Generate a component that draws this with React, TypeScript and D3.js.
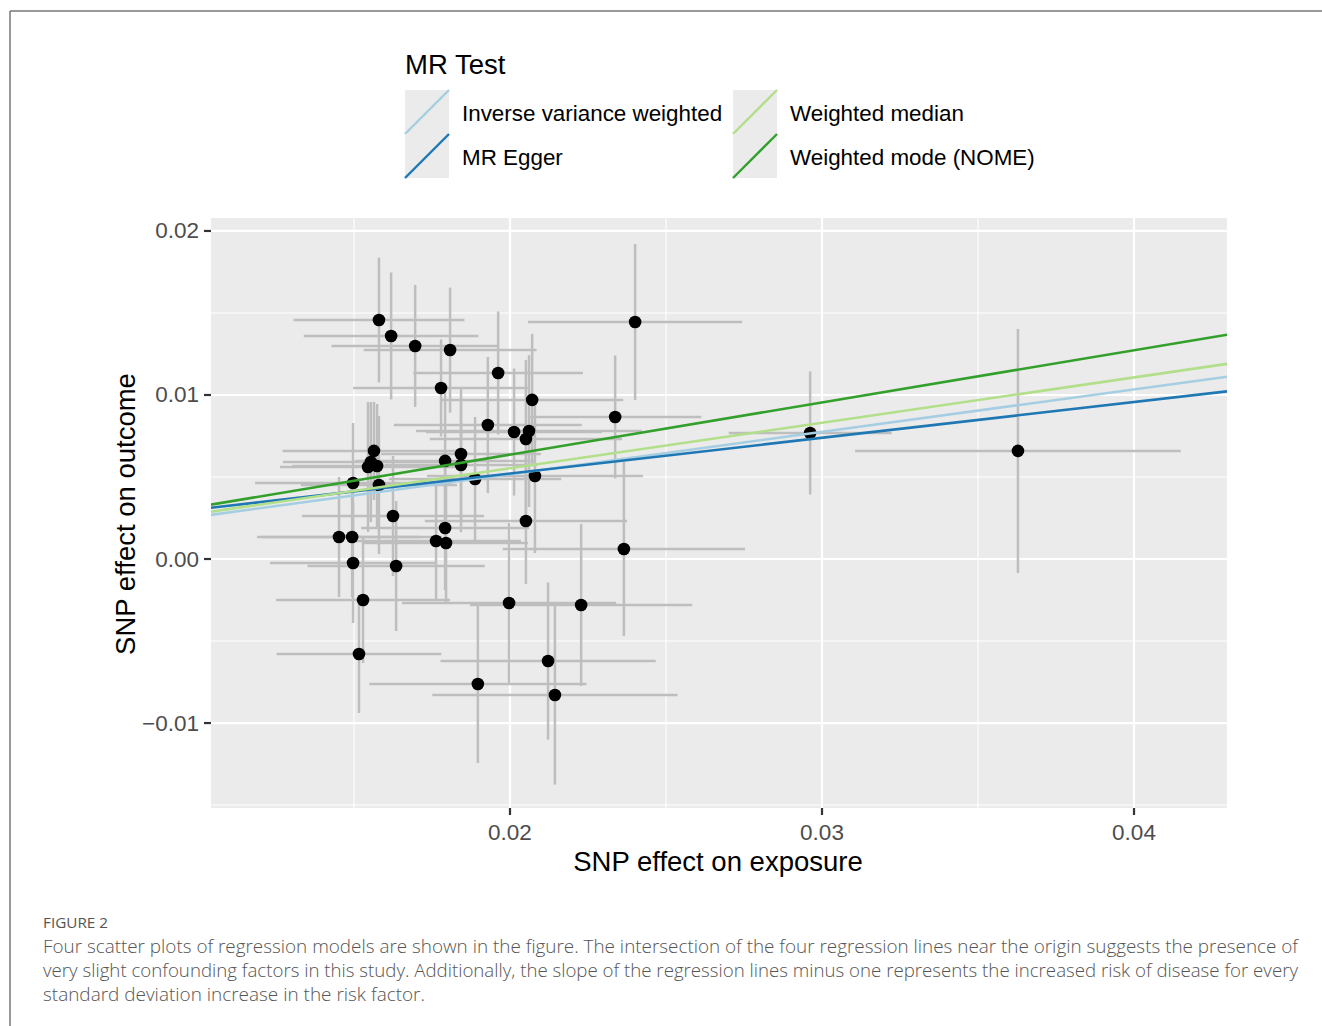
import React from 'react';
import * as d3 from 'd3';

// SNP estimates
const exposure = [
  0.0158, 0.01619, 0.01696, 0.01808, 0.01962, 0.01779, 0.02071, 0.02401, 0.02337, 0.01929,
  0.02013, 0.02061, 0.02051, 0.01564, 0.01545, 0.01554, 0.01574, 0.01792, 0.01843, 0.01843,
  0.01888, 0.01497, 0.0158, 0.0208, 0.01625, 0.01452, 0.01494, 0.01497, 0.01635, 0.01529,
  0.01516, 0.01792, 0.01763, 0.01795, 0.02051, 0.01997, 0.01897, 0.02122, 0.02144, 0.02365,
  0.02228, 0.02962, 0.03628,
];
const outcome = [
  0.01457, 0.0136, 0.01299, 0.01274, 0.01134, 0.01043, 0.0097, 0.01445, 0.00866, 0.00817,
  0.00774, 0.0078, 0.00732, 0.00659, 0.00561, 0.00591, 0.00567, 0.00598, 0.0064, 0.00573,
  0.00488, 0.00463, 0.00451, 0.00506, 0.00262, 0.00134, 0.00134, -0.00024, -0.00043, -0.0025,
  -0.00579, 0.00189, 0.0011, 0.00098, 0.00232, -0.00268, -0.00762, -0.00622, -0.00829, 0.00061,
  -0.0028, 0.00768, 0.00659,
];
// half widths of the error bars
const errExposure = [
  0.00274, 0.0028, 0.00268, 0.00277, 0.00272, 0.00282, 0.00292, 0.00343, 0.00276, 0.00301,
  0.00282, 0.00362, 0.00308, 0.00293, 0.00282, 0.00282, 0.00272, 0.00288, 0.00256, 0.00244,
  0.00276, 0.00314, 0.0025, 0.00346, 0.00292, 0.00263, 0.00288, 0.00266, 0.00284, 0.00279,
  0.00264, 0.00269, 0.00272, 0.00263, 0.00324, 0.00343, 0.00348, 0.00345, 0.00393, 0.00388,
  0.00356, 0.00261, 0.00522,
];
const errOutcome = [
  0.00381, 0.00387, 0.00372, 0.00381, 0.00375, 0.00296, 0.00402, 0.00476, 0.00375, 0.00415,
  0.00387, 0.00463, 0.00482, 0.00299, 0.00396, 0.00366, 0.00378, 0.00415, 0.00402, 0.00409,
  0.00378, 0.00366, 0.00421, 0.0047, 0.00366, 0.00366, 0.00366, 0.00366, 0.00396, 0.00384,
  0.0036, 0.00378, 0.00366, 0.00366, 0.00384, 0.00488, 0.00482, 0.00479, 0.00546, 0.0053,
  0.00494, 0.00375, 0.00744,
];

const methodNames = ['Inverse variance weighted', 'MR Egger', 'Weighted median', 'Weighted mode (NOME)'];
const methodSlopes = [0.2585, 0.218, 0.2768, 0.3182];
const methodIntercepts = [0, 0.00085, 0, 0];
const methodColors = ['#a6cee3', '#1f78b4', '#b2df8a', '#33a02c'];

const xTicks = [0.02, 0.03, 0.04];
const xMinor = [0.015, 0.025, 0.035];
const yTicks = [-0.01, 0.0, 0.01, 0.02];
const yMinor = [-0.015, -0.005, 0.005, 0.015];

const captionLines = [
  'Four scatter plots of regression models are shown in the figure. The intersection of the four regression lines near the origin suggests the presence of',
  'very slight confounding factors in this study. Additionally, the slope of the regression lines minus one represents the increased risk of disease for every',
  'standard deviation increase in the risk factor.',
];
const captionWidths = [1255, 1255, 382];

const font = '"Liberation Sans", Arial, sans-serif';

export default function App() {
  const left = 211, right = 1227, top = 218, bottom = 808;
  const x = d3.scaleLinear().domain([0.010417, 0.04298]).range([left, right]);
  const y = d3.scaleLinear().domain([-0.01518, 0.02079]).range([bottom, top]);
  const line = d3.line<number>().x(d => x(d[0])).y(d => y(d[1]));

  const pts = exposure.map((e, i) => ({ e, o: outcome[i], se: errExposure[i], so: errOutcome[i] }));
  const xDom = x.domain();

  return (
    <svg width={1322} height={1026} style={{ position: 'absolute', left: 0, top: 0, background: '#fff' }}>
      {/* frame */}
      <line x1={10} x2={1322} y1={11} y2={11} stroke="#777" strokeWidth={1.5} />
      <line x1={10} x2={10} y1={11} y2={1026} stroke="#777" strokeWidth={1.5} />

      {/* legend */}
      <text x={405} y={74} fontFamily={font} fontSize={27.5} fill="#000">MR Test</text>
      {methodNames.map((name, i) => {
        const col = Math.floor(i / 2), row = i % 2;
        const kx = 405 + col * 328, ky = 90 + row * 44;
        return (
          <g key={name}>
            <rect x={kx} y={ky} width={44} height={44} fill="#ebebeb" />
            <line x1={kx} y1={ky + 44} x2={kx + 44} y2={ky} stroke={methodColors[i]} strokeWidth={2.4} />
            <text x={kx + 57} y={ky + 23} dominantBaseline="central" fontFamily={font} fontSize={22.4} fill="#000">{name}</text>
          </g>
        );
      })}

      {/* panel */}
      <rect x={left} y={top} width={right - left} height={bottom - top} fill="#ebebeb" />
      {xMinor.map(t => <line key={'xm' + t} x1={x(t)} x2={x(t)} y1={top} y2={bottom} stroke="#fff" strokeWidth={1.1} />)}
      {yMinor.map(t => <line key={'ym' + t} x1={left} x2={right} y1={y(t)} y2={y(t)} stroke="#fff" strokeWidth={1.1} />)}
      {xTicks.map(t => <line key={'xg' + t} x1={x(t)} x2={x(t)} y1={top} y2={bottom} stroke="#fff" strokeWidth={2.2} />)}
      {yTicks.map(t => <line key={'yg' + t} x1={left} x2={right} y1={y(t)} y2={y(t)} stroke="#fff" strokeWidth={2.2} />)}

      <g clipPath="url(#panel)">
        <clipPath id="panel"><rect x={left} y={top} width={right - left} height={bottom - top} /></clipPath>
        {pts.map((p, i) => (
          <g key={'e' + i} stroke="#bebebe" strokeWidth={2.5}>
            <line x1={x(p.e)} x2={x(p.e)} y1={y(p.o - p.so)} y2={y(p.o + p.so)} />
            <line x1={x(p.e - p.se)} x2={x(p.e + p.se)} y1={y(p.o)} y2={y(p.o)} />
          </g>
        ))}
        {pts.map((p, i) => <circle key={'p' + i} cx={x(p.e)} cy={y(p.o)} r={6.3} fill="#000" />)}
        {methodNames.map((name, i) => (
          <path
            key={'l' + name}
            d={line(xDom.map(v => [v, methodIntercepts[i] + methodSlopes[i] * v]) as any) || ''}
            fill="none"
            stroke={methodColors[i]}
            strokeWidth={2.6}
          />
        ))}
      </g>

      {/* axes */}
      {xTicks.map(t => (
        <g key={'xt' + t}>
          <line x1={x(t)} x2={x(t)} y1={bottom} y2={bottom + 7} stroke="#333" strokeWidth={2.2} />
          <text x={x(t)} y={840} textAnchor="middle" fontFamily={font} fontSize={22.5} fill="#4d4d4d">{t.toFixed(2)}</text>
        </g>
      ))}
      {yTicks.map(t => (
        <g key={'yt' + t}>
          <line x1={left - 7} x2={left} y1={y(t)} y2={y(t)} stroke="#333" strokeWidth={2.2} />
          <text x={199} y={y(t)} dominantBaseline="central" textAnchor="end" fontFamily={font} fontSize={22.5} fill="#4d4d4d">
            {t < 0 ? '\u2212' + Math.abs(t).toFixed(2) : t.toFixed(2)}
          </text>
        </g>
      ))}
      <text x={718} y={871} textAnchor="middle" fontFamily={font} fontSize={27.5} fill="#000">SNP effect on exposure</text>
      <text transform="translate(135,514) rotate(-90)" textAnchor="middle" fontFamily={font} fontSize={27.5} fill="#000">SNP effect on outcome</text>

      {/* caption */}
      <text x={43} y={928} fontFamily='"Open Sans", sans-serif' fontSize={14.5} fill="#555" textLength={65} lengthAdjust="spacingAndGlyphs">FIGURE 2</text>
      {captionLines.map((c, i) => (
        <text
          key={'c' + i}
          x={43}
          y={953 + i * 24}
          fontFamily='"Open Sans", sans-serif'
          fontWeight={300}
          fontSize={17.5}
          fill="#555"
          textLength={captionWidths[i]}
          lengthAdjust="spacingAndGlyphs"
        >
          {c}
        </text>
      ))}
    </svg>
  );
}
